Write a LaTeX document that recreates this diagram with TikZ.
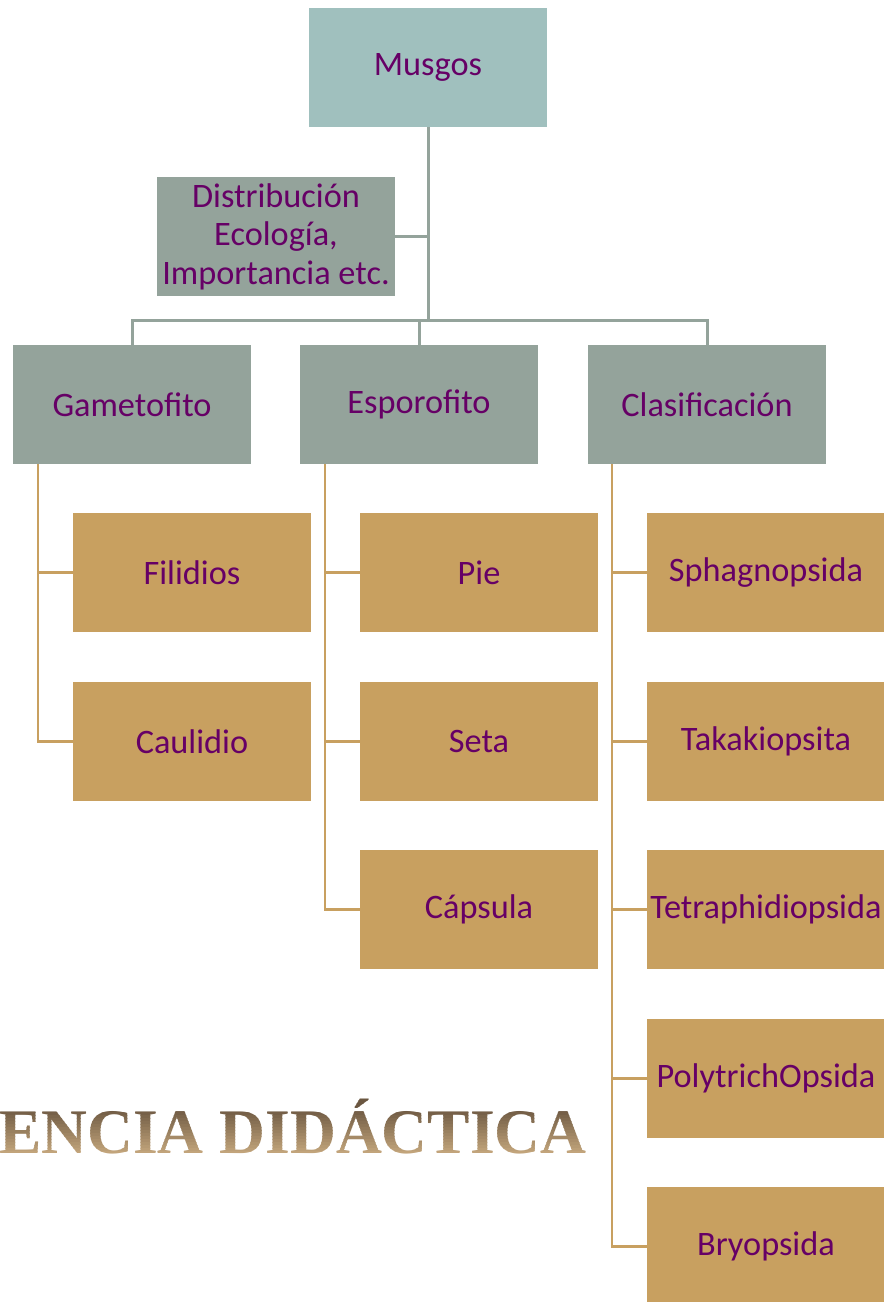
\documentclass[tikz,border=0pt]{standalone}
\usepackage{fontspec}
\setmainfont{Carlito}
\newfontfamily\titlefont{Liberation Serif}
\definecolor{topbox}{HTML}{A0C0BE}
\definecolor{greybox}{HTML}{94A39B}
\definecolor{tanbox}{HTML}{C8A060}
\definecolor{txt}{HTML}{660066}
\definecolor{ttdark}{HTML}{6A5640}
\definecolor{ttlight}{HTML}{C4A67C}
\tikzset{
  box/.style={minimum width=238pt, minimum height=119pt, inner sep=0pt, outer sep=0pt,
    text=txt, align=center, font=\fontsize{34.3}{38.5}\selectfont},
  topb/.style={box, fill=topbox},
  greyb/.style={box, fill=greybox},
  tanb/.style={box, fill=tanbox},
  greyline/.style={draw=greybox, line width=3pt},
  tanline/.style={draw=tanbox, line width=2.8pt},
  ttl/.style={anchor=base west, inner sep=0pt, font=\titlefont\bfseries\fontsize{63.5}{63.5}\selectfont}
}
\begin{document}
\begin{tikzpicture}[x=1pt,y=-1pt]
\useasboundingbox (0,0) rectangle (884,1302);
\coordinate (bus) at (428,320);
\node[topb] (musgos) at (428,67.5) {Musgos};
\node[greyb] (dist) at (276,236.5) {Distribución\\Ecología,\\Importancia etc.};
\node[greyb] (gam) at (132,404.5) {Gametofito};
\node[greyb] (esp) at (419,404.5) {Esporofito};
\node[greyb] (clas) at (707,404.5) {Clasificación};
\node[tanb] (fil) at (192,572.5) {Filidios};
\node[tanb] (cau) at (192,741.5) {Caulidio};
\node[tanb] (pie) at (479,572.5) {Pie};
\node[tanb] (seta) at (479,741.5) {Seta};
\node[tanb] (cap) at (479,909.5) {Cápsula};
\node[tanb] (sph) at (766,572.5) {Sphagnopsida};
\node[tanb] (tak) at (766,741.5) {Takakiopsita};
\node[tanb] (tet) at (766,909.5) {Tetraphidiopsida};
\node[tanb] (pol) at (766,1078.5) {PolytrichOpsida};
\node[tanb] (bry) at (766,1246.5) {Bryopsida};
\path[greyline] (musgos.south) -- (bus);
\path[greyline] (dist.east) -- (dist.east -| musgos.south);
\path[greyline] (gam.north) -- (gam.north |- bus) -- (clas.north |- bus) -- (clas.north);
\path[greyline] (esp.north) -- (esp.north |- bus);
% tan connectors
\path[tanline] ([xshift=25pt]gam.south west) |- (cau.west);
\path[tanline] ([xshift=25pt]gam.south west) |- (fil.west);
\path[tanline] ([xshift=25pt]esp.south west) |- (cap.west);
\path[tanline] ([xshift=25pt]esp.south west) |- (pie.west);
\path[tanline] ([xshift=25pt]esp.south west) |- (seta.west);
\path[tanline] ([xshift=24pt]clas.south west) |- (bry.west);
\path[tanline] ([xshift=24pt]clas.south west) |- (sph.west);
\path[tanline] ([xshift=24pt]clas.south west) |- (tak.west);
\path[tanline] ([xshift=24pt]clas.south west) |- (tet.west);
\path[tanline] ([xshift=24pt]clas.south west) |- (pol.west);
% gradient title
\foreach \i in {0,...,23}{
  \pgfmathsetmacro{\ya}{1088+3*\i}
  \pgfmathsetmacro{\yb}{\ya+3.2}
  \pgfmathsetmacro{\pc}{max(0,min(100,100-(\ya-1106)*100/46))}
  \begin{scope}
    \clip (-5,\ya) rectangle (700,\yb);
    \node[ttl, text=ttdark!\pc!ttlight] (title\i) at (-1,1153) {ENCIA DIDÁCTICA};
  \end{scope}
}
\end{tikzpicture}
\end{document}
